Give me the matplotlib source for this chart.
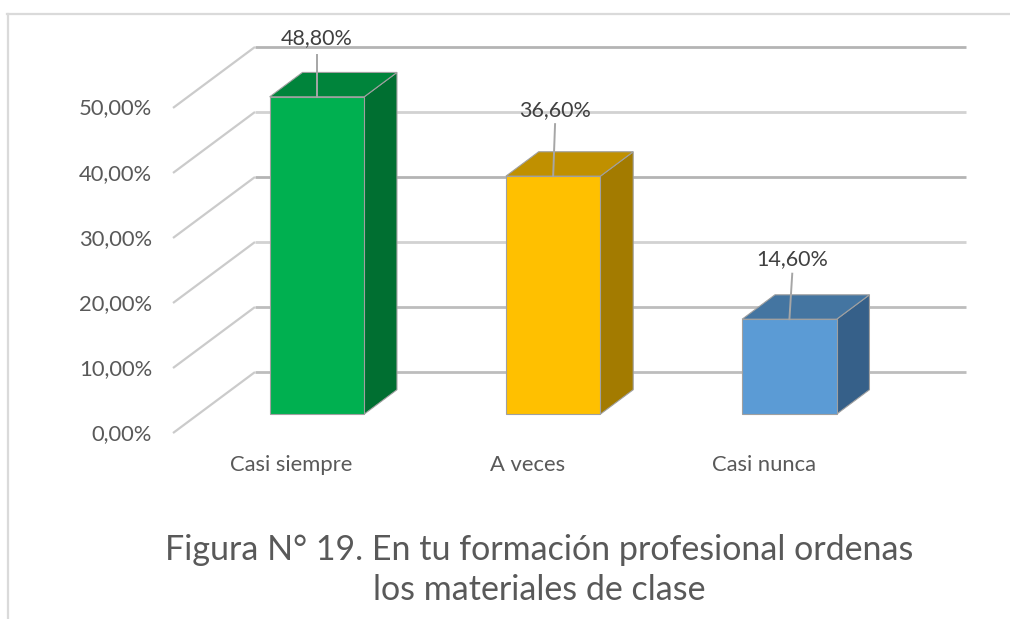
import matplotlib
matplotlib.use('Agg')
import matplotlib.pyplot as plt
from matplotlib.patches import Polygon

plt.rcParams['font.family'] = ['Lato', 'DejaVu Sans']

categories = ['Casi siempre', 'A veces', 'Casi nunca']
values = [48.8, 36.6, 14.6]
value_labels = ['48,80%', '36,60%', '14,60%']
y_ticks = [0, 10, 20, 30, 40, 50]
y_tick_labels = ['0,00%', '10,00%', '20,00%', '30,00%', '40,00%', '50,00%']
title_lines = 'Figura N° 19. En tu formación profesional ordenas\nlos materiales de clase'

front_colors = ['#00B050', '#FFC000', '#5B9BD5']
top_colors = ['#00843B', '#C09000', '#4475A1']
side_colors = ['#006F31', '#A37B00', '#366089']
grid_colors = ['#BDBDBD', '#BDBDBD', '#D2D2D2', '#B4B4B4', '#D2D2D2', '#B4B4B4']

text_color = '#595959'

# oblique depth of the fake 3d box, in data units
depth_dx = 0.347
depth_dy = 9.38
bar_width = 0.4
bar_d0 = 0.31
bar_d1 = 0.71
wall_left = -0.5016
wall_right = 2.855


def proj(x, v, d=0.0):
    return (x + depth_dx * d, v + depth_dy * d)


fig = plt.figure(figsize=(10.10, 6.19), dpi=100)
ax = fig.add_axes([0, 0, 1, 1])
ax.set_xlim(-1.2339, 3.0413)
ax.set_ylim(-28.6, 66.6)
ax.axis('off')

# grid, side wall then back wall
for t, lab, c in zip(y_ticks, y_tick_labels, grid_colors):
    p0 = proj(wall_left, t, 0)
    p1 = proj(wall_left, t, 1)
    p2 = (wall_right, p1[1])
    ax.plot([p0[0], p1[0]], [p0[1], p1[1]], color='#CBCBCB', lw=1.6, zorder=1,
            solid_capstyle='butt')
    ax.plot([p1[0], p2[0]], [p1[1], p2[1]], color=c, lw=2.0, zorder=1,
            solid_capstyle='butt')
    ax.text(-0.59, t - 0.1, lab, ha='right', va='center',
            fontsize=15.8, color=text_color)

# bars
for i, v in enumerate(values):
    x0 = i - bar_width / 2
    x1 = i + bar_width / 2
    fa = [proj(x0, 0, bar_d0), proj(x1, 0, bar_d0), proj(x1, v, bar_d0), proj(x0, v, bar_d0)]
    to = [proj(x0, v, bar_d0), proj(x1, v, bar_d0), proj(x1, v, bar_d1), proj(x0, v, bar_d1)]
    si = [proj(x1, 0, bar_d0), proj(x1, 0, bar_d1), proj(x1, v, bar_d1), proj(x1, v, bar_d0)]
    ax.add_patch(Polygon(si, closed=True, fc=side_colors[i], ec='#A0A0A0', lw=0.8, zorder=3))
    ax.add_patch(Polygon(to, closed=True, fc=top_colors[i], ec='#A0A0A0', lw=0.8, zorder=3))
    ax.add_patch(Polygon(fa, closed=True, fc=front_colors[i], ec='#A0A0A0', lw=0.8, zorder=3))
    # category label sits on the front plane
    ax.text(*proj(i, -4.9, 0), categories[i], ha='center', va='center',
            fontsize=15.8, color=text_color)

# value labels with leader lines
label_dx = [0.0, 0.008, 0.012]
label_top = [6.5, 8.0, 7.0]
label_gap = [2.6, 2.2, 2.3]
for i, v in enumerate(values):
    base = proj(i, v, bar_d0)
    tip = (base[0] + label_dx[i], base[1] + label_top[i])
    ax.plot([base[0], tip[0]], [base[1], tip[1]], color='#A6A6A6', lw=1.4, zorder=4)
    ax.text(tip[0], tip[1] + label_gap[i], value_labels[i], ha='center', va='center',
            fontsize=15.5, color='#404040', zorder=5)

# outer chart border, only top and left are in the crop
fig.add_artist(plt.Line2D([7 / 1010, 1], [1 - 14 / 619, 1 - 14 / 619], color='#DADADA', lw=1.6))
fig.add_artist(plt.Line2D([7.5 / 1010, 7.5 / 1010], [0, 1 - 14 / 619], color='#DADADA', lw=1.6))

fig.text(539 / 1010, 1 - 570 / 619, title_lines, ha='center', va='center',
         fontsize=24.5, color=text_color, linespacing=1.28)

fig.savefig('out.png', dpi=100)
